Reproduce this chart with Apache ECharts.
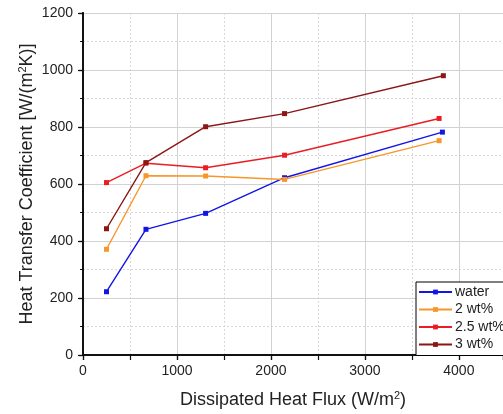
<!DOCTYPE html>
<html>
<head>
<meta charset="utf-8">
<script src="https://cdn.jsdelivr.net/npm/echarts@6/dist/echarts.min.js"></script>
<style>
  html, body { margin: 0; padding: 0; background: #fff; }
  #myChart { width: 503px; height: 414px; }
</style>
</head>
<body>
<div id="myChart"></div>
<script>
// series names (legend order)
var seriesNames = ['water', '2 wt%', '2.5 wt%', '3 wt%'];

// dissipated heat flux (W/m2) of each measured point
var fluxWater = [250, 670, 1305, 2145, 3825];
var flux2 = [250, 670, 1305, 2145, 3790];
var flux25 = [250, 670, 1305, 2145, 3790];
var flux3 = [250, 670, 1305, 2145, 3835];

// heat transfer coefficient W/(m2K)
var htcWater = [222, 441, 497, 622, 782];
var htc2 = [371, 629, 628, 616, 752];
var htc25 = [605, 673, 657, 701, 830];
var htc3 = [443, 675, 801, 847, 980];

var colors = ['#1414e6', '#f7962a', '#ea1e22', '#8a1616'];

function pairs(xs, ys) {
  var out = [];
  for (var i = 0; i < xs.length; i++) {
    out.push([xs[i], ys[i]]);
  }
  return out;
}

var allData = [
  pairs(fluxWater, htcWater),
  pairs(flux2, htc2),
  pairs(flux25, htc25),
  pairs(flux3, htc3)
];

var myChart = echarts.init(document.getElementById('myChart'));
var font = 'Liberation Sans, Arial, sans-serif';

// plain numbers, no thousand separator
function plain(v) {
  return String(v);
}

var series = [];
for (var k = 0; k < seriesNames.length; k++) {
  series.push({
    name: seriesNames[k],
    type: 'line',
    data: allData[k],
    symbol: 'rect',
    symbolSize: 5,
    color: colors[k],
    lineStyle: { width: 1.4, color: colors[k] },
    itemStyle: { color: colors[k] },
    animation: false
  });
}

var titleStyle = {
  fontFamily: font, fontSize: 18, color: '#222',
  rich: { sup: { fontFamily: font, fontSize: 11, color: '#222', verticalAlign: 'top', padding: [0, 0, 9, 0] } }
};

var option = {
  backgroundColor: '#fff',
  animation: false,
  grid: { left: 83, top: 13, right: -2, bottom: 59 },
  legend: {
    orient: 'vertical',
    left: 416,
    top: 282,
    data: seriesNames,
    itemWidth: 33,
    itemHeight: 6,
    itemGap: 1.5,
    padding: [2, 40, 3, 2],
    borderColor: '#000',
    borderWidth: 1,
    backgroundColor: '#fff',
    textStyle: { fontFamily: font, fontSize: 14, color: '#222', lineHeight: 16, padding: [0, 0, 0, -2] }
  },
  xAxis: [{
    type: 'value',
    min: 0,
    max: 4470,
    interval: 1000,
    name: 'Dissipated Heat Flux (W/m{sup|2})',
    nameLocation: 'middle',
    nameGap: 35,
    nameTextStyle: titleStyle,
    axisLine: { lineStyle: { color: '#111', width: 1.8 } },
    axisTick: { inside: false, length: 5, lineStyle: { color: '#111', width: 1.2 } },
    minorTick: { show: true, splitNumber: 2, length: 3, lineStyle: { color: '#111' } },
    axisLabel: { fontFamily: font, fontSize: 14, color: '#222', margin: 9, showMaxLabel: false, formatter: plain },
    splitLine: { show: true, lineStyle: { color: '#d2d2d2', width: 1 } },
    minorSplitLine: { show: true, lineStyle: { color: '#d8d8d8', type: [2, 2], width: 1 } }
  }, {
    type: 'value',
    position: 'top',
    min: 0,
    max: 4470,
    interval: 500,
    axisLine: { show: true, lineStyle: { color: '#111', width: 1.8 } },
    axisTick: { show: true, inside: true, length: 5, lineStyle: { color: '#111', width: 1.2 } },
    axisLabel: { show: false },
    splitLine: { show: false }
  }],
  yAxis: [{
    type: 'value',
    min: 0,
    max: 1200,
    interval: 200,
    name: 'Heat Transfer Coefficient [W/(m{sup|2}K)]',
    nameLocation: 'middle',
    nameGap: 46,
    nameMoveOverlap: false,
    nameTextStyle: titleStyle,
    axisLine: { show: true, lineStyle: { color: '#111', width: 1.8 } },
    axisTick: { show: true, inside: false, length: 5, lineStyle: { color: '#111', width: 1.2 } },
    minorTick: { show: true, splitNumber: 2, length: 3, lineStyle: { color: '#111' } },
    axisLabel: { fontFamily: font, fontSize: 14, color: '#222', margin: 10, formatter: plain },
    splitLine: { show: true, lineStyle: { color: '#d2d2d2', width: 1 } },
    minorSplitLine: { show: true, lineStyle: { color: '#d8d8d8', type: [2, 2], width: 1 } }
  }, {
    type: 'value',
    position: 'right',
    min: 0,
    max: 1200,
    interval: 200,
    axisLine: { show: true, lineStyle: { color: '#111', width: 1.8 } },
    axisTick: { show: true, inside: true, length: 4, lineStyle: { color: '#111', width: 1.2 } },
    axisLabel: { show: false },
    splitLine: { show: false }
  }],
  series: series
};

myChart.setOption(option);
</script>
</body>
</html>
